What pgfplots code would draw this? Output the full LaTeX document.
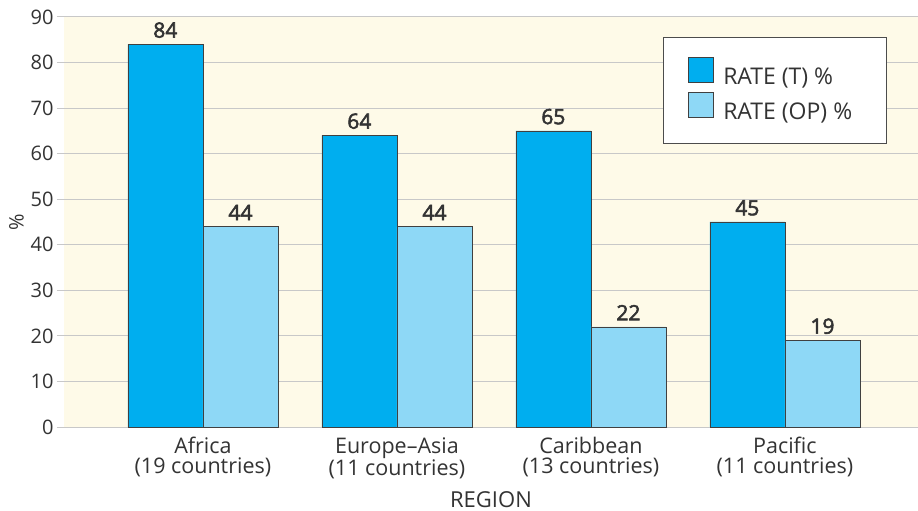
\documentclass[border=0pt]{standalone}
\usepackage{fontspec}
\setmainfont{Open Sans}
\newcommand\fb{\special{pdf:literal direct 2 Tr 0.55 w}}
\newcommand\fe{\special{pdf:literal direct 0 Tr}}
\usepackage{pgfplots}
\pgfplotsset{compat=1.18}
\definecolor{darkbar}{HTML}{00AEEF}
\definecolor{lightbar}{HTML}{8ED8F6}
\definecolor{bg}{HTML}{FEFAE8}
\definecolor{txt}{HTML}{333333}
\definecolor{gridc}{HTML}{C8C8C8}
\begin{document}
\begin{tikzpicture}
\begin{axis}[
  scale only axis, width=854pt, height=410pt,
  xmin=-0.716, xmax=3.686, ymin=0, ymax=90,
  ytick={0,10,...,90},
  xtick={0,1,2,3},
  xticklabels={{Africa\\(19 countries)},{Europe--Asia\\(11 countries)},{Caribbean\\(13 countries)},{Pacific\\(11 countries)}},
  axis line style={draw=none},
  axis background/.style={fill=bg},
  ymajorgrids, grid style={draw=gridc, line width=1pt},
  major tick length=7pt, tick align=outside,
  ytick style={draw=gridc, line width=1pt}, xtick style={draw=none},
  /pgf/number format/assume math mode=true,
  yticklabel style={font=\fontsize{20}{24}\selectfont, text=txt},
  xticklabel style={font=\fontsize{21.5}{20}\selectfont, text=txt, align=center},
  ylabel={\%}, ylabel style={font=\fontsize{20}{24}\selectfont, text=txt},
  xlabel={REGION}, xlabel style={font=\fontsize{22}{24}\selectfont, text=txt, at={(axis description cs:0.5,0)}, anchor=base, yshift=-80pt},
  ybar, bar width=0.387,
  nodes near coords={\fb\pgfmathprintnumber{\pgfplotspointmeta}\fe},
  nodes near coords style={font=\fontsize{21}{24}\selectfont, text=txt, yshift=3pt},
  legend style={at={(0.701,0.951)}, anchor=north west, draw=black!70, fill=white,
    font=\fontsize{23}{26}\selectfont, text=txt, inner xsep=25pt, inner ysep=19.5pt, row sep=4pt,
    /tikz/every odd column/.append style={column sep=8pt}},
  legend cell align=left,
  legend image code/.code={\draw[#1] (0pt,-5pt) rectangle (25pt,20pt);},
]
\addplot[fill=darkbar, draw=black!75, bar shift=-0.1935] coordinates {(0,84)(1,64)(2,65)(3,45)};
\addplot[fill=lightbar, draw=black!75, bar shift=0.1935] coordinates {(0,44)(1,44)(2,22)(3,19)};
\legend{RATE (T) \%, RATE (OP) \%\hspace*{7pt}}
\end{axis}
\pgfresetboundingbox
\path ([xshift=-64pt,yshift=-84pt]current axis.south west) rectangle ([yshift=17pt]current axis.north east);
\end{tikzpicture}
\end{document}
